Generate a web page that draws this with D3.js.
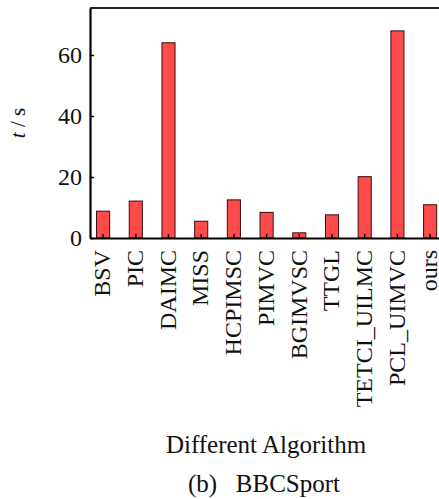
<!DOCTYPE html>
<html>
<head>
<meta charset="utf-8">
<script src="https://cdn.jsdelivr.net/npm/d3@7"></script>
<style>
  body { margin: 0; background: #fff; }
  text { font-family: "Liberation Serif", "Times New Roman", serif; fill: #111; }
</style>
</head>
<body>
<div id="chart"></div>
<script>
var algorithms = ["BSV", "PIC", "DAIMC", "MISS", "HCPIMSC", "PIMVC", "BGIMVSC", "TTGL", "TETCI_UILMC", "PCL_UIMVC", "ours"];
var times = [8.8, 12.1, 64.0, 5.5, 12.5, 8.4, 1.7, 7.6, 20.1, 67.9, 10.9];
var yTicks = [0, 20, 40, 60];

var drawChart = function() {
  var width = 439;
  var height = 499;
  var plotLeft = 90, plotRight = 443.2, plotTop = 8, plotBottom = 238;

  var svg = d3.select("#chart").append("svg").attr("width", width).attr("height", height);

  var x = d3.scaleBand().domain(algorithms).range([plotLeft, plotRight]).paddingInner(0.6).paddingOuter(0.2);
  var y = d3.scaleLinear().domain([0, 75.4]).range([plotBottom, plotTop]);

  // bars
  svg.selectAll("rect.bar")
    .data(algorithms)
    .enter()
    .append("rect")
    .attr("class", "bar")
    .attr("x", d => x(d))
    .attr("y", (d, i) => y(times[i]))
    .attr("width", x.bandwidth())
    .attr("height", (d, i) => plotBottom - y(times[i]))
    .attr("fill", "#fd4b4b")
    .attr("stroke", "#3a0c0c")
    .attr("stroke-width", 1);

  // top frame line
  svg.append("line")
    .attr("x1", plotLeft).attr("x2", plotRight).attr("y1", plotTop).attr("y2", plotTop)
    .attr("stroke", "#222").attr("stroke-width", 2);

  // y axis
  var yAxis = svg.append("g")
    .attr("transform", "translate(" + plotLeft + ",0)")
    .call(d3.axisLeft(y).tickValues(yTicks).tickSizeInner(-4).tickSizeOuter(0).tickPadding(8));
  yAxis.select(".domain").attr("stroke", "#000").attr("stroke-width", 2.2);
  yAxis.selectAll(".tick line").attr("stroke", "#000").attr("stroke-width", 1.5);
  yAxis.selectAll(".tick text")
    .style("font-size", "24px")
    .style("font-family", "Liberation Serif")
    .attr("fill", "#111");

  // x axis
  var xAxis = svg.append("g")
    .attr("transform", "translate(0," + plotBottom + ")")
    .call(d3.axisBottom(x).tickSizeInner(-4).tickSizeOuter(0).tickPadding(0));
  xAxis.select(".domain").attr("stroke", "#000").attr("stroke-width", 2.2);
  xAxis.selectAll(".tick line").attr("stroke", "#000").attr("stroke-width", 1.5);
  xAxis.selectAll(".tick text")
    .style("font-size", "24px")
    .style("font-family", "Liberation Serif")
    .attr("fill", "#111")
    .attr("transform", "rotate(-90)")
    .attr("text-anchor", "end")
    .attr("x", -12)
    .attr("y", 0)
    .attr("dy", "0.3em");

  // y label
  var yl = svg.append("text")
    .attr("transform", "translate(25,123) rotate(-90)")
    .attr("text-anchor", "middle")
    .style("font-size", "21px");
  yl.append("tspan").style("font-style", "italic").text("t");
  yl.append("tspan").text(" / s");

  // x label
  svg.append("text")
    .attr("x", 266).attr("y", 453)
    .attr("text-anchor", "middle")
    .style("font-size", "25px")
    .text("Different Algorithm");

  svg.append("text")
    .attr("x", 264).attr("y", 492)
    .attr("text-anchor", "middle")
    .style("font-size", "25px")
    .style("white-space", "pre")
    .text("(b)   BBCSport");
};

drawChart();
</script>
</body>
</html>
